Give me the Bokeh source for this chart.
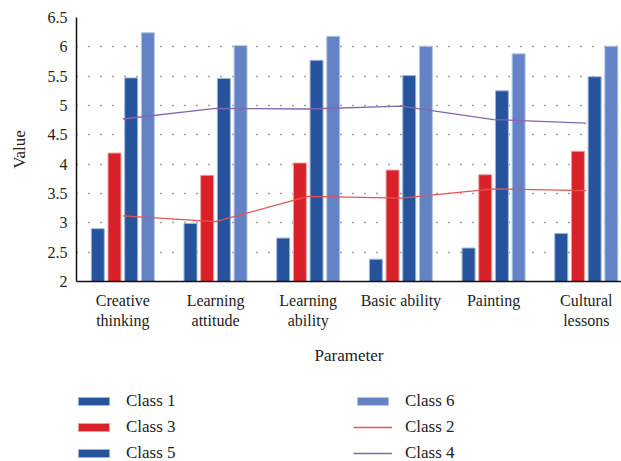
from bokeh.plotting import figure
from bokeh.layouts import column
from bokeh.models import Range1d, FixedTicker, Legend, LegendItem, ColumnDataSource
from bokeh.transform import dodge
from bokeh.embed import file_html
from bokeh.resources import INLINE

categories = ["Creative\nthinking", "Learning\nattitude", "Learning\nability",
              "Basic ability", "Painting", "Cultural\nlessons"]
class1 = [2.90, 2.99, 2.74, 2.38, 2.57, 2.82]
class3 = [4.19, 3.81, 4.02, 3.90, 3.82, 4.22]
class5 = [5.47, 5.46, 5.77, 5.51, 5.25, 5.49]
class6 = [6.24, 6.02, 6.18, 6.01, 5.88, 6.01]
class2 = [3.12, 3.02, 3.45, 3.42, 3.58, 3.55]
class4 = [4.77, 4.95, 4.94, 4.99, 4.76, 4.70]
y_ticks = [2, 2.5, 3, 3.5, 4, 4.5, 5, 5.5, 6, 6.5]
y_labels = ["2", "2.5", "3", "3.5", "4", "4.5", "5", "5.5", "6", "6.5"]

pos = [i + 0.5 for i in range(len(categories))]
src = ColumnDataSource(dict(pos=pos, c1=class1, c3=class3, c5=class5, c6=class6,
                            c2=class2, c4=class4))

SERIF = "Liberation Serif"
DARK = "#26549c"
RED = "#d92129"
LIGHT = "#6383c4"
DARK_EDGE = "#9fb3da"
RED_EDGE = "#f0a0a0"
LIGHT_EDGE = "#b5c5e6"
LINE2 = "#e25552"
LINE4 = "#8466ad"
bw = 0.14


def add_series(fig):
    r1 = fig.vbar(x=dodge("pos", -0.27, range=fig.x_range), top="c1", bottom=2, width=bw,
                  source=src, fill_color=DARK, line_color=DARK_EDGE, line_width=1)
    r3 = fig.vbar(x=dodge("pos", -0.09, range=fig.x_range), top="c3", bottom=2, width=bw,
                  source=src, fill_color=RED, line_color=RED_EDGE, line_width=1)
    r5 = fig.vbar(x=dodge("pos", 0.09, range=fig.x_range), top="c5", bottom=2, width=bw,
                  source=src, fill_color=DARK, line_color=DARK_EDGE, line_width=1)
    r6 = fig.vbar(x=dodge("pos", 0.27, range=fig.x_range), top="c6", bottom=2, width=bw,
                  source=src, fill_color=LIGHT, line_color=LIGHT_EDGE, line_width=1)
    r2 = fig.line(x="pos", y="c2", source=src, line_color=LINE2, line_width=1.3)
    r4 = fig.line(x="pos", y="c4", source=src, line_color=LINE4, line_width=1.3)
    return r1, r2, r3, r4, r5, r6


p = figure(width=621, height=385, output_backend="svg", toolbar_location=None,
           x_range=Range1d(0, 5.88), y_range=Range1d(2, 6.5),
           min_border_left=76, min_border_right=0, min_border_top=17, min_border_bottom=104,
           outline_line_color=None)
add_series(p)

p.xgrid.grid_line_color = None
p.ygrid.ticker = FixedTicker(ticks=y_ticks)
p.ygrid.grid_line_color = "#444444"
p.ygrid.grid_line_dash = "1 11"
p.ygrid.grid_line_width = 1.5

p.xaxis.ticker = FixedTicker(ticks=pos)
p.xaxis.major_label_overrides = {pp: c for pp, c in zip(pos, categories)}
p.yaxis.ticker = FixedTicker(ticks=y_ticks)
p.yaxis.major_label_overrides = {t: l for t, l in zip(y_ticks, y_labels)}

for ax in (p.xaxis[0], p.yaxis[0]):
    ax.axis_line_color = "#111111"
    ax.axis_line_width = 1.5
    ax.major_tick_out = 0
    ax.major_tick_in = 0
    ax.minor_tick_out = 0
    ax.minor_tick_in = 0
    ax.major_label_text_font = SERIF
    ax.major_label_text_font_size = "16px"
    ax.major_label_text_color = "#222222"
    ax.axis_label_text_font = SERIF
    ax.axis_label_text_font_size = "17px"
    ax.axis_label_text_font_style = "normal"
    ax.axis_label_text_color = "#222222"

p.xaxis.axis_label = "Parameter"
p.yaxis.axis_label = "Value"
p.xaxis.major_label_standoff = 10
p.xaxis.axis_label_standoff = 14
p.yaxis.major_label_standoff = 9
p.yaxis.axis_label_standoff = 16

# legend panel: a second figure whose view range lies far away from the (same)
# series, so only its legend is visible
lp = figure(width=621, height=76, output_backend="svg", toolbar_location=None,
            x_range=Range1d(-20, -19), y_range=Range1d(-20, -19),
            x_axis_location=None, y_axis_location=None,
            min_border=0, outline_line_color=None)
lp.grid.visible = False
g1, g2, g3, g4, g5, g6 = add_series(lp)

common = dict(border_line_color=None, background_fill_alpha=0, padding=0, margin=0,
              glyph_width=39, glyph_height=10, label_height=18, spacing=6,
              label_standoff=13, label_text_font=SERIF, label_text_font_size="17px",
              label_text_color="#222222")
leg_a = Legend(items=[LegendItem(label="Class 1", renderers=[g1]),
                      LegendItem(label="Class 3", renderers=[g3]),
                      LegendItem(label="Class 5", renderers=[g5])],
               location=(-2, -2), **common)
leg_b = Legend(items=[LegendItem(label="Class 6", renderers=[g6]),
                      LegendItem(label="Class 2", renderers=[g2]),
                      LegendItem(label="Class 4", renderers=[g4])],
               location=(277, -2), **common)
lp.add_layout(leg_a)
lp.add_layout(leg_b)

layout = column(p, lp, spacing=0)
open("out.html", "w").write(file_html(layout, INLINE))
